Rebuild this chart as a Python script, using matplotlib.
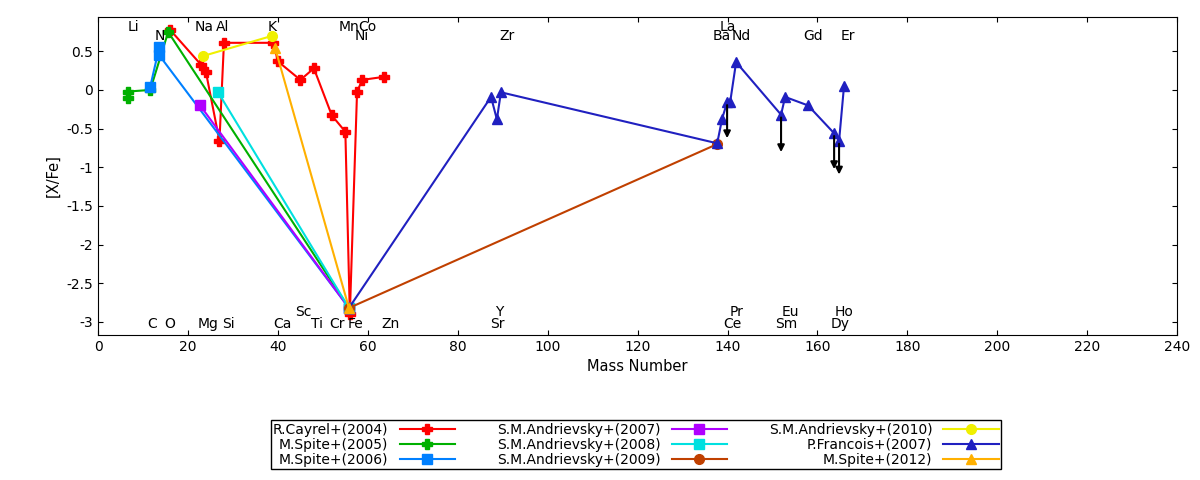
import numpy as np
import matplotlib.pyplot as plt

# [X/Fe] vs mass number, one pair of arrays per paper
cayrel_x = [16, 23, 24, 27, 28, 39, 40, 45, 48, 52, 55, 56, 57.6, 58.7, 63.6]
cayrel_y = [0.78, 0.32, 0.23, -0.66, 0.61, 0.61, 0.37, 0.13, 0.28, -0.33, -0.54, -2.9, -0.03, 0.13, 0.17]
spite05_x = [6.7, 6.7, 11.6, 15.6, 55.8]
spite05_y = [-0.1, -0.02, 0.0, 0.75, -2.82]
spite06_x = [11.6, 13.6, 13.6, 55.8]
spite06_y = [0.04, 0.55, 0.45, -2.82]
andr07_x = [22.7, 55.8]
andr07_y = [-0.2, -2.82]
andr08_x = [26.7, 55.8]
andr08_y = [-0.03, -2.82]
andr09_x = [55.8, 137.7]
andr09_y = [-2.82, -0.7]
andr10_x = [23.4, 38.7]
andr10_y = [0.44, 0.7]
francois_x = [55.8, 87.4, 88.7, 89.6, 137.7, 138.8, 139.9, 140.6, 141.9,
              151.9, 152.8, 157.9, 163.7, 164.8, 165.9]
francois_y = [-2.82, -0.09, -0.38, -0.03, -0.69, -0.37, -0.16, -0.15, 0.36,
              -0.32, -0.09, -0.2, -0.56, -0.66, 0.05]
spite12_x = [39.4, 55.8]
spite12_y = [0.54, -2.82]

# upper limits (black arrows)
limit_x = [139.9, 151.9, 163.7, 164.8]
limit_y = [-0.16, -0.32, -0.56, -0.66]
limit_len = [0.5, 0.52, 0.5, 0.47]

# element labels: (name, x, y)
elem_labels = [
    ("Li", 7.8, 0.82), ("Na", 23.6, 0.82), ("Al", 27.8, 0.82), ("K", 38.7, 0.82),
    ("Mn", 55.8, 0.82), ("Co", 59.8, 0.82), ("La", 140, 0.82),
    ("N", 13.8, 0.70), ("Ni", 58.7, 0.70), ("Zr", 91, 0.70), ("Ba", 138.8, 0.70),
    ("Nd", 143, 0.70), ("Gd", 159, 0.70), ("Er", 166.8, 0.70),
    ("Sc", 45.6, -2.87), ("Y", 89.2, -2.87), ("Pr", 141.9, -2.87),
    ("Eu", 154, -2.87), ("Ho", 166, -2.87),
    ("C", 12, -3.03), ("O", 16, -3.03), ("Mg", 24.5, -3.03), ("Si", 28.9, -3.03),
    ("Ca", 41, -3.03), ("Ti", 48.7, -3.03), ("Cr", 53.1, -3.03), ("Fe", 57.2, -3.03),
    ("Zn", 65, -3.03), ("Sr", 88.7, -3.03), ("Ce", 141, -3.03), ("Sm", 153, -3.03),
    ("Dy", 165, -3.03),
]

fig = plt.figure(figsize=(12, 4.8), dpi=100)
ax = fig.add_axes([0.0817, 0.302, 0.8993, 0.6626])

series = [
    (cayrel_x, cayrel_y, "#ff0000", "P", "R.Cayrel+(2004)"),
    (spite05_x, spite05_y, "#00b000", "P", "M.Spite+(2005)"),
    (spite06_x, spite06_y, "#0080ff", "s", "M.Spite+(2006)"),
    (andr07_x, andr07_y, "#b000ff", "s", "S.M.Andrievsky+(2007)"),
    (andr08_x, andr08_y, "#00e0e0", "s", "S.M.Andrievsky+(2008)"),
    (andr09_x, andr09_y, "#c04000", "o", "S.M.Andrievsky+(2009)"),
    (andr10_x, andr10_y, "#f0f000", "o", "S.M.Andrievsky+(2010)"),
    (francois_x, francois_y, "#2020c0", "^", "P.Francois+(2007)"),
    (spite12_x, spite12_y, "#ffb000", "^", "M.Spite+(2012)"),
]
for x, y, c, m, lab in series:
    ax.plot(x, y, "-", color=c, marker=m, markersize=7, lw=1.5, label=lab)

for x, y, l in zip(limit_x, limit_y, limit_len):
    ax.annotate("", xy=(x, y - l), xytext=(x, y),
                arrowprops=dict(arrowstyle="-|>", color="black", lw=1.5))

for name, x, y in elem_labels:
    ax.text(x, y, name, ha="center", va="center", fontsize=10)

ax.set_xlim(0, 240)
ax.set_ylim(-3.17, 0.944)
ax.set_xticks(np.arange(0, 241, 20))
ax.set_yticks([0.5, 0, -0.5, -1, -1.5, -2, -2.5, -3])
ax.set_yticklabels(["0.5", "0", "-0.5", "-1", "-1.5", "-2", "-2.5", "-3"])
ax.tick_params(direction="in", top=True, right=True, labelsize=10)
ax.set_xlabel("Mass Number", fontsize=10.5)
ax.set_ylabel("[X/Fe]", fontsize=10.5)

handles, labels = ax.get_legend_handles_labels()
fig.legend(handles, labels, ncol=3, markerfirst=False, fontsize=10,
           loc="center", bbox_to_anchor=(0.53, 0.073), fancybox=False,
           edgecolor="black", framealpha=1, handlelength=4,
           borderpad=0.15, labelspacing=0.1, columnspacing=3.0)

fig.savefig("out.png", dpi=100)
